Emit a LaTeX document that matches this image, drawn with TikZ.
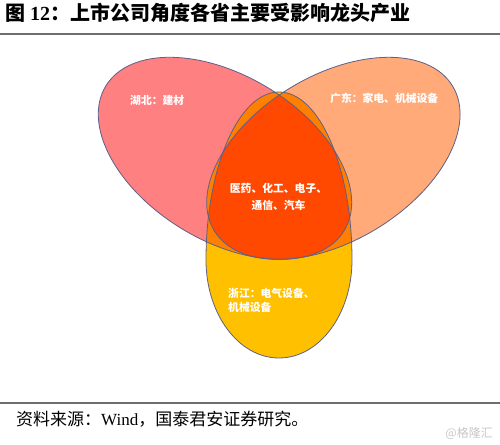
\documentclass[tikz,border=0pt]{standalone}
\usepackage{fontspec}
\setmainfont{Liberation Serif}
\newfontfamily\cjk{Noto Sans CJK SC}

\definecolor{hubeifill}{RGB}{255,128,128}
\definecolor{guangdongfill}{RGB}{255,170,120}
\definecolor{zhejiangfill}{RGB}{255,192,0}
\definecolor{twofill}{RGB}{255,128,0}
\definecolor{allfill}{RGB}{255,72,0}
\definecolor{vennline}{RGB}{95,95,135}
\definecolor{ruleline}{RGB}{110,110,110}

\tikzset{
  venn/.style={draw=vennline, line width=0.8pt},
  hubeiarea/.style={rotate around={-31.2:(hubei)}},
  guangdongarea/.style={rotate around={31.2:(guangdong)}},
  lbl/.style={text=white, font=\cjk\bfseries\fontsize{10.8}{13}\selectfont, inner sep=0pt},
}
\def\zhejiangegg{(352,184) arc[start angle=0, end angle=180, x radius=73, y radius=168]
  arc[start angle=180, end angle=360, x radius=73, y radius=98] -- cycle}

\begin{document}
\begin{tikzpicture}[x=1pt,y=1pt]
\useasboundingbox (0,0) rectangle (500,444);

\coordinate (hubei) at (225,285.7);
\coordinate (guangdong) at (333.4,285.7);

% single provinces
\fill[hubeifill, hubeiarea] (hubei) ellipse (139.4 and 82.6);
\fill[guangdongfill, guangdongarea] (guangdong) ellipse (139.4 and 82.6);
\fill[zhejiangfill] \zhejiangegg;

% two provinces
\begin{scope}
  \clip[hubeiarea] (hubei) ellipse (139.4 and 82.6);
  \fill[twofill, guangdongarea] (guangdong) ellipse (139.4 and 82.6);
  \fill[twofill] \zhejiangegg;
\end{scope}
\begin{scope}
  \clip[guangdongarea] (guangdong) ellipse (139.4 and 82.6);
  \fill[twofill] \zhejiangegg;
\end{scope}

% all three
\begin{scope}
  \clip[hubeiarea] (hubei) ellipse (139.4 and 82.6);
  \clip[guangdongarea] (guangdong) ellipse (139.4 and 82.6);
  \fill[allfill] \zhejiangegg;
\end{scope}

\draw[venn, hubeiarea] (hubei) ellipse (139.4 and 82.6);
\draw[venn, guangdongarea] (guangdong) ellipse (139.4 and 82.6);
\draw[venn] \zhejiangegg;

\node[lbl, anchor=base west] (hubeitxt) at (130,339) {湖北：建材};
\node[lbl, anchor=base west] (guangdongtxt) at (330,341) {广东：家电、机械设备};
\node[lbl, anchor=base] (alltxt1) at (278.5,251) {医药、化工、电子、};
\node[lbl, anchor=base] (alltxt2) at (278.5,234) {通信、汽车};
\node[lbl, anchor=base west] (zhejiangtxt1) at (228,146) {浙江：电气设备、};
\node[lbl, anchor=base west] (zhejiangtxt2) at (228,132) {机械设备};

% title and source
\node[anchor=base west, inner sep=0pt] (title) at (5,423)
  {\fontsize{20}{24}\selectfont{\cjk\bfseries 图}~\textbf{12}{\cjk\bfseries ：上市公司角度各省主要受影响龙头产业}};
\draw[ruleline, line width=1.5pt] (0,410) -- (500,410);
\draw[ruleline, line width=1.5pt] (0,41) -- (500,41);
\node[anchor=base west, inner sep=0pt] (source) at (16,19)
  {\fontsize{17}{20}\selectfont{\cjk 资料来源：}Wind{\cjk ，国泰君安证券研究。}};
\node[anchor=base east, inner sep=0pt, text=black!22] (mark) at (493,7)
  {\fontsize{12}{14}\selectfont{\cjk @格隆汇}};
\end{tikzpicture}
\end{document}
